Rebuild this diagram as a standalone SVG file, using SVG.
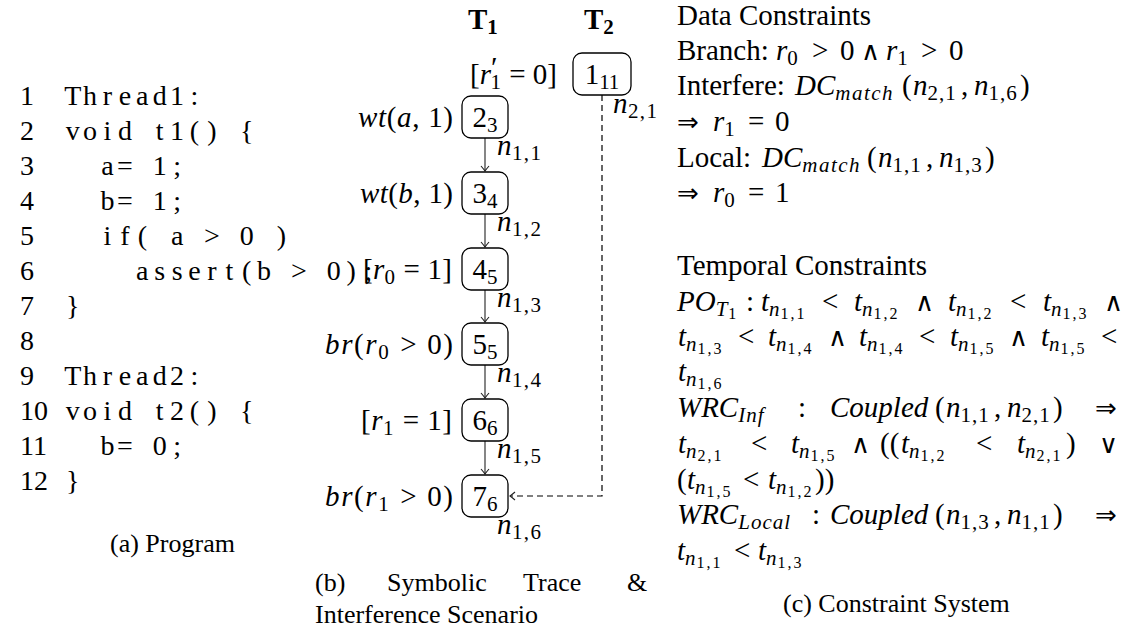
<svg xmlns="http://www.w3.org/2000/svg" width="1125" height="630" viewBox="0 0 1125 630">
<style>
.tx{font-family:"Liberation Serif",serif;font-size:29px;fill:#000}
.cap{font-family:"Liberation Serif",serif;font-size:26px;fill:#000}
.code{font-family:"Liberation Serif",serif;font-size:28px;fill:#000}
.it{font-style:italic}
.sb{font-size:21px;letter-spacing:1px}
.ss{font-size:16px;letter-spacing:2px}
.op{font-family:"DejaVu Sans ExtraLight","DejaVu Sans",sans-serif;font-size:26px}
.bf{font-weight:bold}
.box{fill:none;stroke:#000;stroke-width:1.3}
.edge{fill:none;stroke:#444;stroke-width:1.3}
.dash{fill:none;stroke:#000;stroke-width:1.2;stroke-dasharray:6 4}
</style>
<defs>
<marker id="ah" viewBox="-6 -5 8 10" markerWidth="8" markerHeight="10" refX="0" refY="0" orient="auto" markerUnits="userSpaceOnUse">
<path d="M-5,-4 Q-1.5,-1 0,0 Q-1.5,1 -5,4" fill="none" stroke="#222" stroke-width="1.1"/>
</marker>
</defs>
<rect width="1125" height="630" fill="#fff"/>

<!-- (a) Program -->
<g id="program">
<g class="code">
<text x="20" y="105">1</text>
<text x="20" y="140">2</text>
<text x="20" y="175">3</text>
<text x="20" y="210">4</text>
<text x="20" y="245">5</text>
<text x="20" y="280">6</text>
<text x="20" y="315">7</text>
<text x="20" y="350">8</text>
<text x="20" y="385">9</text>
<text x="20" y="420">10</text>
<text x="20" y="455">11</text>
<text x="20" y="490">12</text>
</g>
<g class="code" text-anchor="middle">
<text y="105" x="72.7 90.1 107.5 124.9 142.3 159.7 177.1 194.5">Thread1:</text>
<text y="140" x="72.7 90.1 107.5 124.9 142.3 159.7 177.1 194.5 211.9 229.3 246.7">void t1() {</text>
<text y="175" x="107.5 124.9 142.3 159.7 177.1">a= 1;</text>
<text y="210" x="107.5 124.9 142.3 159.7 177.1">b= 1;</text>
<text y="245" x="107.5 124.9 142.3 159.7 177.1 194.5 211.9 229.3 246.7 264.1 281.5">if( a &gt; 0 )</text>
<text y="280" x="142.3 159.7 177.1 194.5 211.9 229.3 246.7 264.1 281.5 298.9 316.3 333.7 351.1 368.5">assert(b &gt; 0);</text>
<text y="315" x="72.7">}</text>
<text y="385" x="72.7 90.1 107.5 124.9 142.3 159.7 177.1 194.5">Thread2:</text>
<text y="420" x="72.7 90.1 107.5 124.9 142.3 159.7 177.1 194.5 211.9 229.3 246.7">void t2() {</text>
<text y="455" x="107.5 124.9 142.3 159.7 177.1">b= 0;</text>
<text y="490" x="72.7">}</text>
</g>
<text class="cap" x="110" y="552">(a) Program</text>
</g>

<!-- (b) Trace -->
<g id="headers">
<text class="tx bf" x="468" y="29" font-size="31">T<tspan class="sb" dy="5" style="letter-spacing:0">1</tspan></text>
<text class="tx bf" x="584" y="29" font-size="31">T<tspan class="sb" dy="5" style="letter-spacing:0">2</tspan></text>
</g>

<g id="connectors">
<line class="edge" x1="485" y1="138" x2="485" y2="171" marker-end="url(#ah)"/>
<line class="edge" x1="485" y1="214" x2="485" y2="247" marker-end="url(#ah)"/>
<line class="edge" x1="485" y1="290" x2="485" y2="322" marker-end="url(#ah)"/>
<line class="edge" x1="485" y1="365" x2="485" y2="398" marker-end="url(#ah)"/>
<line class="edge" x1="485" y1="441" x2="485" y2="474" marker-end="url(#ah)"/>
<polyline class="dash" points="602,95 602,496 510,496" marker-end="url(#ah)"/>
<text class="tx" x="497" y="155" textLength="45"><tspan class="it">n</tspan><tspan class="sb" dy="5">1,1</tspan></text>
<text class="tx" x="497" y="231" textLength="45"><tspan class="it">n</tspan><tspan class="sb" dy="5">1,2</tspan></text>
<text class="tx" x="497" y="307" textLength="45"><tspan class="it">n</tspan><tspan class="sb" dy="5">1,3</tspan></text>
<text class="tx" x="497" y="382" textLength="45"><tspan class="it">n</tspan><tspan class="sb" dy="5">1,4</tspan></text>
<text class="tx" x="497" y="458" textLength="45"><tspan class="it">n</tspan><tspan class="sb" dy="5">1,5</tspan></text>
<text class="tx" x="497" y="534" textLength="45"><tspan class="it">n</tspan><tspan class="sb" dy="5">1,6</tspan></text>
<text class="tx" x="613" y="113" textLength="45"><tspan class="it">n</tspan><tspan class="sb" dy="5">2,1</tspan></text>
</g>

<g id="n1">
<rect class="box" x="573" y="53" width="58" height="42" rx="9"/>
<text class="tx" x="602" y="84" text-anchor="middle">1<tspan class="sb" dy="5" style="letter-spacing:0">11</tspan></text>
<text class="tx" x="557" y="84" text-anchor="end" textLength="87">[<tspan class="it">r</tspan><tspan font-size="30" dy="-7">′</tspan><tspan class="sb" dx="-7" dy="12">1</tspan><tspan dy="-5"> = 0]</tspan></text>
</g>
<g id="n2">
<rect class="box" x="462" y="96" width="46" height="42" rx="9"/>
<text class="tx" x="485" y="127" text-anchor="middle">2<tspan class="sb" dy="5" style="letter-spacing:0">3</tspan></text>
<text class="tx" x="453" y="127" text-anchor="end" textLength="95"><tspan class="it">wt</tspan>(<tspan class="it">a</tspan>, 1)</text>
</g>
<g id="n3">
<rect class="box" x="462" y="172" width="46" height="42" rx="9"/>
<text class="tx" x="485" y="203" text-anchor="middle">3<tspan class="sb" dy="5" style="letter-spacing:0">4</tspan></text>
<text class="tx" x="453" y="203" text-anchor="end" textLength="93"><tspan class="it">wt</tspan>(<tspan class="it">b</tspan>, 1)</text>
</g>
<g id="n4">
<rect class="box" x="462" y="248" width="46" height="42" rx="9"/>
<text class="tx" x="485" y="279" text-anchor="middle">4<tspan class="sb" dy="5" style="letter-spacing:0">5</tspan></text>
<text class="tx" x="452" y="279" text-anchor="end" textLength="89">[<tspan class="it">r</tspan><tspan class="sb" dy="5">0</tspan><tspan dy="-5"> = 1]</tspan></text>
</g>
<g id="n5">
<rect class="box" x="462" y="323" width="46" height="42" rx="9"/>
<text class="tx" x="485" y="354" text-anchor="middle">5<tspan class="sb" dy="5" style="letter-spacing:0">5</tspan></text>
<text class="tx" x="453" y="354" text-anchor="end" textLength="128"><tspan class="it">br</tspan>(<tspan class="it">r</tspan><tspan class="sb" dy="5">0</tspan><tspan dy="-5"> &gt; 0)</tspan></text>
</g>
<g id="n6">
<rect class="box" x="462" y="399" width="46" height="42" rx="9"/>
<text class="tx" x="485" y="430" text-anchor="middle">6<tspan class="sb" dy="5" style="letter-spacing:0">6</tspan></text>
<text class="tx" x="452" y="430" text-anchor="end" textLength="91">[<tspan class="it">r</tspan><tspan class="sb" dy="5">1</tspan><tspan dy="-5"> = 1]</tspan></text>
</g>
<g id="n7">
<rect class="box" x="462" y="475" width="46" height="42" rx="9"/>
<text class="tx" x="485" y="506" text-anchor="middle">7<tspan class="sb" dy="5" style="letter-spacing:0">6</tspan></text>
<text class="tx" x="453" y="506" text-anchor="end" textLength="128"><tspan class="it">br</tspan>(<tspan class="it">r</tspan><tspan class="sb" dy="5">1</tspan><tspan dy="-5"> &gt; 0)</tspan></text>
</g>

<g id="caption-b">
<text class="cap" y="591"><tspan x="315">(b)</tspan><tspan x="387">Symbolic</tspan><tspan x="523">Trace</tspan><tspan x="627">&amp;</tspan></text>
<text class="cap" x="315" y="623">Interference Scenario</text>
</g>

<!-- (c) Constraint System -->
<g id="constraints">
<text class="tx" x="677" y="25">Data Constraints</text>
<text class="tx"><tspan x="677" y="60">Branch:</tspan><tspan x="776" y="60" class="it">r</tspan><tspan class="sb" y="65">0</tspan><tspan x="812" y="60">&gt;</tspan><tspan x="840" y="60">0</tspan><tspan x="861" y="60" class="op">∧</tspan><tspan x="886" y="60" class="it">r</tspan><tspan class="sb" y="65">1</tspan><tspan x="921" y="60">&gt;</tspan><tspan x="949" y="60">0</tspan></text>
<text class="tx"><tspan x="677" y="95">Interfere:</tspan><tspan x="795" y="95" class="it">DC</tspan><tspan class="it sb" y="100" style="letter-spacing:1.5px">match</tspan><tspan x="902" y="95">(</tspan><tspan x="913" y="95" class="it">n</tspan><tspan class="sb" y="100">2,1</tspan><tspan x="961" y="95">,</tspan><tspan x="974" y="95" class="it">n</tspan><tspan class="sb" y="100">1,6</tspan><tspan x="1020" y="95">)</tspan></text>
<text class="tx"><tspan x="677" y="131" class="op">⇒</tspan><tspan x="713" y="131" class="it">r</tspan><tspan class="sb" y="136">1</tspan><tspan x="748" y="131">=</tspan><tspan x="775" y="131">0</tspan></text>
<text class="tx"><tspan x="677" y="167">Local:</tspan><tspan x="762" y="167" class="it">DC</tspan><tspan class="it sb" y="172" style="letter-spacing:1.5px">match</tspan><tspan x="867" y="167">(</tspan><tspan x="878" y="167" class="it">n</tspan><tspan class="sb" y="172">1,1</tspan><tspan x="926" y="167">,</tspan><tspan x="939" y="167" class="it">n</tspan><tspan class="sb" y="172">1,3</tspan><tspan x="985" y="167">)</tspan></text>
<text class="tx"><tspan x="677" y="202" class="op">⇒</tspan><tspan x="713" y="202" class="it">r</tspan><tspan class="sb" y="207">0</tspan><tspan x="748" y="202">=</tspan><tspan x="775" y="202">1</tspan></text>

<text class="tx" x="677" y="275">Temporal Constraints</text>
<text class="tx"><tspan x="677" y="311" class="it">PO</tspan><tspan class="it sb" y="316">T</tspan><tspan class="ss" y="319">1</tspan><tspan x="746" y="311">:</tspan><tspan x="761" y="311" class="it">t</tspan><tspan class="it sb" y="316">n</tspan><tspan class="ss" y="319">1,1</tspan><tspan x="822" y="311">&lt;</tspan><tspan x="854" y="311" class="it">t</tspan><tspan class="it sb" y="316">n</tspan><tspan class="ss" y="319">1,2</tspan><tspan x="915" y="311" class="op">∧</tspan><tspan x="948" y="311" class="it">t</tspan><tspan class="it sb" y="316">n</tspan><tspan class="ss" y="319">1,2</tspan><tspan x="1010" y="311">&lt;</tspan><tspan x="1043" y="311" class="it">t</tspan><tspan class="it sb" y="316">n</tspan><tspan class="ss" y="319">1,3</tspan><tspan x="1104" y="311" class="op">∧</tspan></text>
<text class="tx"><tspan x="678" y="346" class="it">t</tspan><tspan class="it sb" y="351">n</tspan><tspan class="ss" y="354">1,3</tspan><tspan x="738" y="346">&lt;</tspan><tspan x="768" y="346" class="it">t</tspan><tspan class="it sb" y="351">n</tspan><tspan class="ss" y="354">1,4</tspan><tspan x="828" y="346" class="op">∧</tspan><tspan x="859" y="346" class="it">t</tspan><tspan class="it sb" y="351">n</tspan><tspan class="ss" y="354">1,4</tspan><tspan x="919" y="346">&lt;</tspan><tspan x="950" y="346" class="it">t</tspan><tspan class="it sb" y="351">n</tspan><tspan class="ss" y="354">1,5</tspan><tspan x="1009" y="346" class="op">∧</tspan><tspan x="1041" y="346" class="it">t</tspan><tspan class="it sb" y="351">n</tspan><tspan class="ss" y="354">1,5</tspan><tspan x="1101" y="346">&lt;</tspan></text>
<text class="tx"><tspan x="678" y="381" class="it">t</tspan><tspan class="it sb" y="386">n</tspan><tspan class="ss" y="389">1,6</tspan></text>
<text class="tx"><tspan x="677" y="417" class="it">WRC</tspan><tspan class="it sb" y="422">Inf</tspan><tspan x="798" y="417">:</tspan><tspan x="830" y="417" class="it">Coupled</tspan><tspan x="935" y="417">(</tspan><tspan x="946" y="417" class="it">n</tspan><tspan class="sb" y="422">1,1</tspan><tspan x="994" y="417">,</tspan><tspan x="1007" y="417" class="it">n</tspan><tspan class="sb" y="422">2,1</tspan><tspan x="1053" y="417">)</tspan><tspan x="1095" y="417" class="op">⇒</tspan></text>
<text class="tx"><tspan x="678" y="453" class="it">t</tspan><tspan class="it sb" y="458">n</tspan><tspan class="ss" y="461">2,1</tspan><tspan x="751" y="453">&lt;</tspan><tspan x="791" y="453" class="it">t</tspan><tspan class="it sb" y="458">n</tspan><tspan class="ss" y="461">1,5</tspan><tspan x="851" y="453" class="op">∧</tspan><tspan x="880" y="453">((</tspan><tspan x="901" y="453" class="it">t</tspan><tspan class="it sb" y="458">n</tspan><tspan class="ss" y="461">1,2</tspan><tspan x="976" y="453">&lt;</tspan><tspan x="1017" y="453" class="it">t</tspan><tspan class="it sb" y="458">n</tspan><tspan class="ss" y="461">2,1</tspan><tspan x="1066" y="453">)</tspan><tspan x="1099" y="453" class="op">∨</tspan></text>
<text class="tx"><tspan x="677" y="489">(</tspan><tspan x="687" y="489" class="it">t</tspan><tspan class="it sb" y="494">n</tspan><tspan class="ss" y="497">1,5</tspan><tspan x="743" y="489">&lt;</tspan><tspan x="768" y="489" class="it">t</tspan><tspan class="it sb" y="494">n</tspan><tspan class="ss" y="497">1,2</tspan><tspan x="815" y="489">))</tspan></text>
<text class="tx"><tspan x="677" y="524" class="it">WRC</tspan><tspan class="it sb" y="529">Local</tspan><tspan x="812" y="524">:</tspan><tspan x="830" y="524" class="it">Coupled</tspan><tspan x="935" y="524">(</tspan><tspan x="946" y="524" class="it">n</tspan><tspan class="sb" y="529">1,3</tspan><tspan x="994" y="524">,</tspan><tspan x="1007" y="524" class="it">n</tspan><tspan class="sb" y="529">1,1</tspan><tspan x="1053" y="524">)</tspan><tspan x="1095" y="524" class="op">⇒</tspan></text>
<text class="tx"><tspan x="677" y="560" class="it">t</tspan><tspan class="it sb" y="565">n</tspan><tspan class="ss" y="568">1,1</tspan><tspan x="734" y="560">&lt;</tspan><tspan x="758" y="560" class="it">t</tspan><tspan class="it sb" y="565">n</tspan><tspan class="ss" y="568">1,3</tspan></text>
<text class="cap" x="783" y="612">(c) Constraint System</text>
</g>
</svg>
